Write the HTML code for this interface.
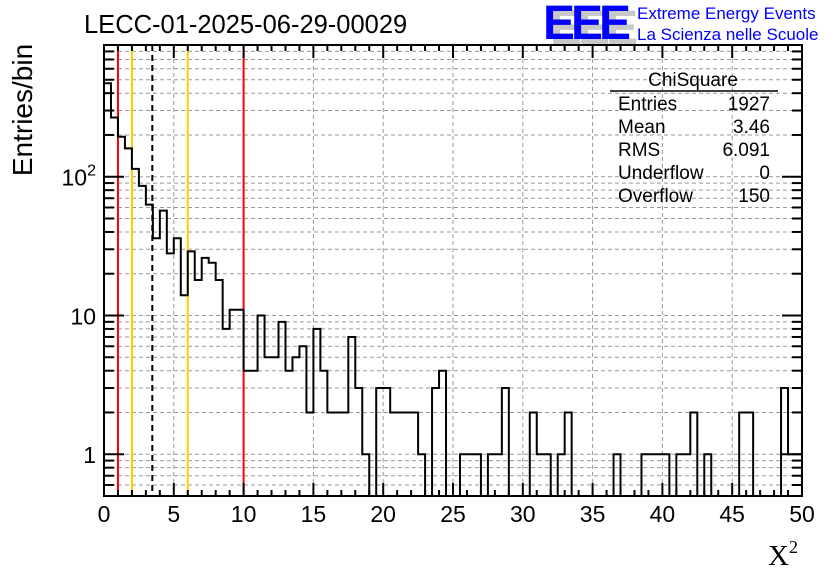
<!DOCTYPE html>
<html><head><meta charset="utf-8"><style>
body{margin:0;background:#fff;}
svg{display:block;font-family:"Liberation Sans",sans-serif;}
</style></head><body>
<svg id="chart" width="836" height="572" viewBox="0 0 836 572">
  <text x="84" y="33" font-size="25.5">LECC-01-2025-06-29-00029</text>
  <g>
    <text x="550" y="44" font-size="48" font-weight="bold" fill="#c8c8c8" letter-spacing="-4">EEE</text>
    <text x="543" y="39" font-size="48" font-weight="bold" fill="#0000ff" letter-spacing="-4">EEE</text>
    <text x="637" y="19" font-size="17" fill="#0000ff">Extreme Energy Events</text>
    <text x="637" y="40" font-size="17" fill="#0000ff">La Scienza nelle Scuole</text>
  </g>
  <g id="grid"></g>
  <g id="vlines"></g>
  <path id="hist" fill="none" stroke="#000" stroke-width="2"></path>
  <g id="axes"></g>
  <rect x="104" y="45" width="698" height="451" fill="none" stroke="#000" stroke-width="2"></rect>
  <g font-size="19">
    <text x="693" y="86" text-anchor="middle">ChiSquare</text>
    <line x1="610" y1="91" x2="778" y2="91" stroke="#000" stroke-width="1.5"></line>
    <text x="618" y="110">Entries</text><text x="770" y="110" text-anchor="end">1927</text>
    <text x="618" y="133">Mean</text><text x="770" y="133" text-anchor="end">3.46</text>
    <text x="618" y="156">RMS</text><text x="770" y="156" text-anchor="end">6.091</text>
    <text x="618" y="179">Underflow</text><text x="770" y="179" text-anchor="end">0</text>
    <text x="618" y="202">Overflow</text><text x="770" y="202" text-anchor="end">150</text>
  </g>
  <text transform="translate(32,110) rotate(-90)" text-anchor="middle" font-size="28">Entries/bin</text>
  <text x="768" y="565" font-size="29" font-family="Liberation Serif,serif">X<tspan font-size="18" dy="-12">2</tspan></text>
</svg>
<script>
const binEdges = [0, 50];
const binCount = 100;
const counts = [472,267,194,160,114,86,63,36,57,28,36,14,29,18,26,24,18,8,11,11,4,4,10,5,5,9,4,5,6,2,8,4,2,2,2,7,3,1,0,3,3,2,2,2,2,1,0,3,4,0,0,1,1,1,0,1,1,3,0,0,0,2,1,1,0,1,2,0,0,0,0,0,0,1,0,0,0,1,1,1,1,0,1,1,2,0,1,0,0,0,0,2,2,0,0,0,0,3,1,1];
const xTickLabels = ["0","5","10","15","20","25","30","35","40","45","50"];
const yTickValues = [1,10,100];
const yTickLabels = ["1","10","10²"];
const refLineX = [1,2,3.46,6,10];
const refLineColors = ["#ff0000","#ffcc00","#000","#ffcc00","#ff0000"];

const L=104,R=802,T=45,B=496,YMIN=0.5,YMAX=890;
const NS="http://www.w3.org/2000/svg";
const xs=v=>L+(v-binEdges[0])/(binEdges[1]-binEdges[0])*(R-L);
const ys=v=>B-(Math.log10(v)-Math.log10(YMIN))/(Math.log10(YMAX)-Math.log10(YMIN))*(B-T);
function mk(tag,attrs,parent){const e=document.createElementNS(NS,tag);for(const k in attrs)e.setAttribute(k,attrs[k]);parent.appendChild(e);return e;}
const grid=document.getElementById('grid'),axes=document.getElementById('axes');
for(let i=1;i<xTickLabels.length-1;i++){const x=xs(+xTickLabels[i]);
  const g=mk('line',{x1:x,x2:x,y1:T,y2:B,stroke:'#999','stroke-dasharray':'4,3','stroke-width':1},grid);
  
  }
for(let d=0.1;d<YMAX;d*=10){for(let m=1;m<10;m++){const v=d*m;if(v<YMIN||v>YMAX)continue;const y=ys(v);
  const g=mk('line',{x1:L,x2:R,y1:y,y2:y,stroke:'#999','stroke-dasharray':'4,3','stroke-width':1},grid);
  
  
  const major=(m===1);
  const t1=mk('line',{x1:L,x2:L+(major?20:10),y1:y,y2:y,stroke:'#000','stroke-width':2},axes);
  
  
  const t2=mk('line',{x1:R,x2:R-(major?20:10),y1:y,y2:y,stroke:'#000','stroke-width':2},axes);
  
  }}
for(let v=0;v<=50;v++){const x=xs(v);const major=v%5===0;const len=major?13:6;
  const a=mk('line',{x1:x,x2:x,y1:B,y2:B-len,stroke:'#000','stroke-width':2},axes);
  
  
  const b=mk('line',{x1:x,x2:x,y1:T,y2:T+len,stroke:'#000','stroke-width':2},axes);
  
  }
xTickLabels.forEach(l=>{const t=mk('text',{x:xs(+l),y:522,'text-anchor':'middle','font-size':23},axes);t.textContent=l;
  
  });
yTickValues.forEach((v,i)=>{const t=mk('text',{x:96,y:ys(v)+9,'text-anchor':'end','font-size':23},axes);
  
  
  const lab=yTickLabels[i];
  if(lab.endsWith('²')){t.textContent=lab.slice(0,-1);const s=mk('tspan',{'font-size':16,dy:-10},t);s.textContent='2';}
  else t.textContent=lab;});
const w=(binEdges[1]-binEdges[0])/binCount;
let d='';
counts.forEach((c,i)=>{const x0=xs(binEdges[0]+i*w),x1=xs(binEdges[0]+(i+1)*w);const y=c>0?ys(c):B;
  if(i===0)d+=`M${x0},${B}`;d+=`L${x0},${y}L${x1},${y}`;});
d+=`L${R},${B}`;
document.getElementById('hist').setAttribute('d',d);
const vl=document.getElementById('vlines');
refLineX.forEach((v,i)=>{const x=xs(v);const a={x1:x,x2:x,y1:T,y2:B,stroke:refLineColors[i],'stroke-width':2};
  if(refLineColors[i]==='#000')a['stroke-dasharray']='6,4';
  const e=mk('line',a,vl);
  
  });
</script>
</body></html>
